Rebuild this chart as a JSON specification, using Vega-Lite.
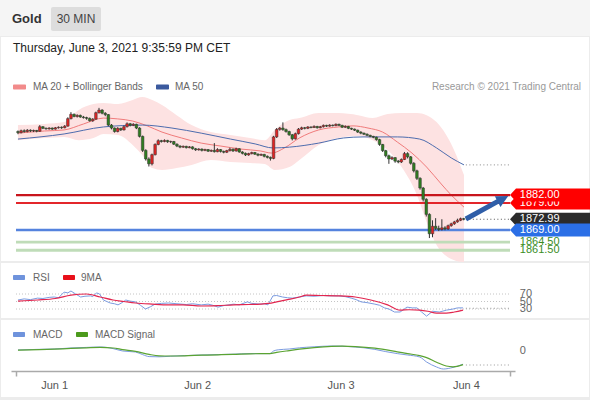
{
"$schema": "https://vega.github.io/schema/vega-lite/v6.json",
"width": 590, "height": 400, "padding": 0, "autosize": {"type": "none"},
"background": "#ececec",
"config": {"font": "Liberation Sans", "view": {"stroke": null}},
"resolve": {"scale": {"y": "independent"}},
"datasets": {
"candles": [
{"i":0,"o":1905.6,"h":1906.0,"l":1904.6,"c":1905.2},
{"i":1,"o":1905.2,"h":1906.3,"l":1904.9,"c":1905.9},
{"i":2,"o":1905.9,"h":1906.4,"l":1905.2,"c":1905.6},
{"i":3,"o":1905.6,"h":1906.5,"l":1905.3,"c":1906.1},
{"i":4,"o":1906.1,"h":1906.4,"l":1905.4,"c":1905.8},
{"i":5,"o":1905.8,"h":1906.3,"l":1905.4,"c":1906.0},
{"i":6,"o":1906.0,"h":1906.2,"l":1905.3,"c":1905.7},
{"i":7,"o":1905.7,"h":1908.0,"l":1905.5,"c":1907.4},
{"i":8,"o":1907.4,"h":1907.6,"l":1906.5,"c":1906.8},
{"i":9,"o":1906.8,"h":1907.1,"l":1906.3,"c":1906.6},
{"i":10,"o":1906.6,"h":1907.2,"l":1906.3,"c":1906.9},
{"i":11,"o":1906.9,"h":1907.1,"l":1906.2,"c":1906.5},
{"i":12,"o":1906.5,"h":1907.3,"l":1906.3,"c":1907.0},
{"i":13,"o":1907.0,"h":1907.5,"l":1906.7,"c":1907.2},
{"i":14,"o":1907.2,"h":1907.5,"l":1906.6,"c":1907.0},
{"i":15,"o":1907.0,"h":1908.0,"l":1906.8,"c":1907.6},
{"i":16,"o":1907.6,"h":1910.9,"l":1907.4,"c":1910.4},
{"i":17,"o":1910.4,"h":1912.8,"l":1910.1,"c":1912.0},
{"i":18,"o":1912.0,"h":1912.3,"l":1910.9,"c":1911.2},
{"i":19,"o":1911.2,"h":1912.0,"l":1910.8,"c":1911.6},
{"i":20,"o":1911.6,"h":1911.9,"l":1910.7,"c":1911.0},
{"i":21,"o":1911.0,"h":1911.4,"l":1910.4,"c":1910.8},
{"i":22,"o":1910.8,"h":1911.1,"l":1910.0,"c":1910.5},
{"i":23,"o":1910.5,"h":1910.8,"l":1909.3,"c":1909.6},
{"i":24,"o":1909.6,"h":1910.6,"l":1909.2,"c":1910.2},
{"i":25,"o":1910.2,"h":1913.0,"l":1910.0,"c":1912.6},
{"i":26,"o":1912.6,"h":1914.4,"l":1912.3,"c":1913.6},
{"i":27,"o":1913.6,"h":1913.9,"l":1912.0,"c":1912.4},
{"i":28,"o":1912.4,"h":1912.8,"l":1911.3,"c":1911.9},
{"i":29,"o":1911.9,"h":1912.1,"l":1907.6,"c":1908.0},
{"i":30,"o":1908.0,"h":1908.4,"l":1906.4,"c":1906.9},
{"i":31,"o":1906.9,"h":1907.1,"l":1905.2,"c":1905.6},
{"i":32,"o":1905.6,"h":1907.2,"l":1905.3,"c":1906.8},
{"i":33,"o":1906.8,"h":1907.0,"l":1905.8,"c":1906.2},
{"i":34,"o":1906.2,"h":1907.8,"l":1906.0,"c":1907.4},
{"i":35,"o":1907.4,"h":1909.0,"l":1907.1,"c":1908.5},
{"i":36,"o":1908.5,"h":1908.8,"l":1907.5,"c":1907.9},
{"i":37,"o":1907.9,"h":1908.7,"l":1907.6,"c":1908.3},
{"i":38,"o":1908.3,"h":1908.5,"l":1906.5,"c":1906.9},
{"i":39,"o":1906.9,"h":1907.2,"l":1903.4,"c":1903.8},
{"i":40,"o":1903.8,"h":1904.1,"l":1898.0,"c":1898.6},
{"i":41,"o":1898.6,"h":1899.0,"l":1894.8,"c":1895.4},
{"i":42,"o":1895.4,"h":1896.0,"l":1892.6,"c":1893.6},
{"i":43,"o":1893.6,"h":1897.4,"l":1893.0,"c":1897.0},
{"i":44,"o":1897.0,"h":1901.2,"l":1896.7,"c":1900.8},
{"i":45,"o":1900.8,"h":1902.7,"l":1900.5,"c":1902.2},
{"i":46,"o":1902.2,"h":1902.5,"l":1901.5,"c":1901.9},
{"i":47,"o":1901.9,"h":1902.7,"l":1901.6,"c":1902.3},
{"i":48,"o":1902.3,"h":1902.5,"l":1901.4,"c":1901.8},
{"i":49,"o":1901.8,"h":1902.2,"l":1901.3,"c":1901.9},
{"i":50,"o":1901.9,"h":1902.1,"l":1900.6,"c":1900.9},
{"i":51,"o":1900.9,"h":1901.2,"l":1899.8,"c":1900.2},
{"i":52,"o":1900.2,"h":1900.5,"l":1899.4,"c":1899.8},
{"i":53,"o":1899.8,"h":1900.4,"l":1899.5,"c":1900.1},
{"i":54,"o":1900.1,"h":1900.3,"l":1899.3,"c":1899.6},
{"i":55,"o":1899.6,"h":1900.2,"l":1899.4,"c":1899.9},
{"i":56,"o":1899.9,"h":1900.1,"l":1898.9,"c":1899.2},
{"i":57,"o":1899.2,"h":1899.5,"l":1898.4,"c":1898.8},
{"i":58,"o":1898.8,"h":1899.4,"l":1898.5,"c":1899.1},
{"i":59,"o":1899.1,"h":1899.3,"l":1898.2,"c":1898.6},
{"i":60,"o":1898.6,"h":1899.2,"l":1898.3,"c":1898.9},
{"i":61,"o":1898.9,"h":1899.1,"l":1898.0,"c":1898.3},
{"i":62,"o":1898.3,"h":1898.9,"l":1898.0,"c":1898.6},
{"i":63,"o":1898.6,"h":1901.3,"l":1897.8,"c":1898.1},
{"i":64,"o":1898.1,"h":1899.4,"l":1897.9,"c":1898.9},
{"i":65,"o":1898.9,"h":1899.1,"l":1897.8,"c":1898.2},
{"i":66,"o":1898.2,"h":1898.5,"l":1897.5,"c":1897.9},
{"i":67,"o":1897.9,"h":1898.8,"l":1897.6,"c":1898.5},
{"i":68,"o":1898.5,"h":1899.6,"l":1898.2,"c":1899.0},
{"i":69,"o":1899.0,"h":1899.3,"l":1898.0,"c":1898.4},
{"i":70,"o":1898.4,"h":1899.6,"l":1898.1,"c":1899.2},
{"i":71,"o":1899.2,"h":1899.4,"l":1897.7,"c":1898.0},
{"i":72,"o":1898.0,"h":1898.3,"l":1897.1,"c":1897.5},
{"i":73,"o":1897.5,"h":1897.8,"l":1896.5,"c":1896.9},
{"i":74,"o":1896.9,"h":1897.7,"l":1896.6,"c":1897.4},
{"i":75,"o":1897.4,"h":1898.1,"l":1897.1,"c":1897.8},
{"i":76,"o":1897.8,"h":1898.0,"l":1896.9,"c":1897.2},
{"i":77,"o":1897.2,"h":1897.5,"l":1896.4,"c":1896.8},
{"i":78,"o":1896.8,"h":1897.4,"l":1896.5,"c":1897.1},
{"i":79,"o":1897.1,"h":1897.3,"l":1896.0,"c":1896.4},
{"i":80,"o":1896.4,"h":1896.7,"l":1895.6,"c":1896.0},
{"i":81,"o":1896.0,"h":1896.3,"l":1894.8,"c":1895.6},
{"i":82,"o":1895.6,"h":1904.0,"l":1895.3,"c":1903.6},
{"i":83,"o":1903.6,"h":1906.9,"l":1903.2,"c":1906.4},
{"i":84,"o":1906.4,"h":1907.3,"l":1905.9,"c":1906.9},
{"i":85,"o":1906.9,"h":1909.0,"l":1905.9,"c":1906.3},
{"i":86,"o":1906.3,"h":1906.7,"l":1905.2,"c":1905.6},
{"i":87,"o":1905.6,"h":1905.9,"l":1904.0,"c":1904.4},
{"i":88,"o":1904.4,"h":1904.7,"l":1902.3,"c":1902.9},
{"i":89,"o":1902.9,"h":1905.2,"l":1902.6,"c":1904.8},
{"i":90,"o":1904.8,"h":1906.9,"l":1904.5,"c":1906.5},
{"i":91,"o":1906.5,"h":1907.4,"l":1906.2,"c":1907.0},
{"i":92,"o":1907.0,"h":1907.3,"l":1906.4,"c":1906.8},
{"i":93,"o":1906.8,"h":1907.6,"l":1906.5,"c":1907.3},
{"i":94,"o":1907.3,"h":1907.5,"l":1906.8,"c":1907.1},
{"i":95,"o":1907.1,"h":1907.9,"l":1906.9,"c":1907.5},
{"i":96,"o":1907.5,"h":1907.7,"l":1906.7,"c":1907.0},
{"i":97,"o":1907.0,"h":1907.7,"l":1906.8,"c":1907.4},
{"i":98,"o":1907.4,"h":1908.2,"l":1907.1,"c":1907.9},
{"i":99,"o":1907.9,"h":1908.1,"l":1907.3,"c":1907.6},
{"i":100,"o":1907.6,"h":1908.3,"l":1907.4,"c":1908.0},
{"i":101,"o":1908.0,"h":1908.2,"l":1907.5,"c":1907.8},
{"i":102,"o":1907.8,"h":1908.6,"l":1907.6,"c":1908.3},
{"i":103,"o":1908.3,"h":1908.5,"l":1907.6,"c":1907.9},
{"i":104,"o":1907.9,"h":1908.1,"l":1906.9,"c":1907.2},
{"i":105,"o":1907.2,"h":1907.9,"l":1906.9,"c":1907.5},
{"i":106,"o":1907.5,"h":1907.7,"l":1906.5,"c":1906.8},
{"i":107,"o":1906.8,"h":1907.0,"l":1906.2,"c":1906.5},
{"i":108,"o":1906.5,"h":1906.7,"l":1905.8,"c":1906.1},
{"i":109,"o":1906.1,"h":1906.3,"l":1905.1,"c":1905.4},
{"i":110,"o":1905.4,"h":1905.7,"l":1904.6,"c":1905.0},
{"i":111,"o":1905.0,"h":1905.2,"l":1904.3,"c":1904.6},
{"i":112,"o":1904.6,"h":1904.9,"l":1903.9,"c":1904.2},
{"i":113,"o":1904.2,"h":1904.4,"l":1903.5,"c":1903.8},
{"i":114,"o":1903.8,"h":1904.0,"l":1903.1,"c":1903.5},
{"i":115,"o":1903.5,"h":1903.7,"l":1902.2,"c":1902.6},
{"i":116,"o":1902.6,"h":1902.9,"l":1900.3,"c":1900.8},
{"i":117,"o":1900.8,"h":1901.0,"l":1898.0,"c":1898.5},
{"i":118,"o":1898.5,"h":1898.8,"l":1896.0,"c":1896.6},
{"i":119,"o":1896.6,"h":1897.0,"l":1893.6,"c":1895.4},
{"i":120,"o":1895.4,"h":1896.4,"l":1895.0,"c":1895.9},
{"i":121,"o":1895.9,"h":1896.1,"l":1894.0,"c":1894.6},
{"i":122,"o":1894.6,"h":1895.0,"l":1893.8,"c":1894.3},
{"i":123,"o":1894.3,"h":1895.6,"l":1893.9,"c":1895.2},
{"i":124,"o":1895.2,"h":1898.0,"l":1895.0,"c":1897.4},
{"i":125,"o":1897.4,"h":1897.9,"l":1895.6,"c":1896.2},
{"i":126,"o":1896.2,"h":1896.5,"l":1893.3,"c":1893.8},
{"i":127,"o":1893.8,"h":1894.2,"l":1890.4,"c":1891.0},
{"i":128,"o":1891.0,"h":1891.4,"l":1887.6,"c":1888.2},
{"i":129,"o":1888.2,"h":1888.6,"l":1884.0,"c":1884.6},
{"i":130,"o":1884.6,"h":1885.0,"l":1879.6,"c":1880.4},
{"i":131,"o":1880.4,"h":1880.8,"l":1874.0,"c":1874.8},
{"i":132,"o":1874.8,"h":1875.2,"l":1866.0,"c":1867.6},
{"i":133,"o":1867.6,"h":1872.6,"l":1866.3,"c":1870.4},
{"i":134,"o":1870.4,"h":1873.4,"l":1869.0,"c":1869.6},
{"i":135,"o":1869.6,"h":1870.6,"l":1868.6,"c":1869.2},
{"i":136,"o":1869.2,"h":1873.0,"l":1868.8,"c":1869.8},
{"i":137,"o":1869.8,"h":1870.4,"l":1868.9,"c":1869.4},
{"i":138,"o":1869.4,"h":1871.0,"l":1869.0,"c":1870.6},
{"i":139,"o":1870.6,"h":1871.7,"l":1870.2,"c":1871.3},
{"i":140,"o":1871.3,"h":1872.4,"l":1870.9,"c":1872.0},
{"i":141,"o":1872.0,"h":1873.2,"l":1871.7,"c":1872.6},
{"i":142,"o":1872.6,"h":1873.6,"l":1872.3,"c":1873.2},
{"i":143,"o":1873.2,"h":1873.5,"l":1872.6,"c":1872.99}
],
"band": [
{"i":0,"up":1908.0,"lo":1902.4},{"i":8.5,"up":1908.4,"lo":1903.2},{"i":14.8,"up":1909.1,"lo":1903.6},
{"i":19.5,"up":1913.6,"lo":1902.4},{"i":24.2,"up":1915.8,"lo":1903.2},{"i":27.4,"up":1916.2,"lo":1904.7},
{"i":32.1,"up":1915.8,"lo":1904.3},{"i":36.8,"up":1917.3,"lo":1900.6},{"i":39.9,"up":1918.4,"lo":1896.9},
{"i":43.1,"up":1917.3,"lo":1892.0},{"i":46.2,"up":1915.5,"lo":1891.3},{"i":50.9,"up":1911.7,"lo":1892.0},
{"i":55.7,"up":1908.0,"lo":1893.2},{"i":61.9,"up":1905.4,"lo":1895.0},{"i":68.2,"up":1904.3,"lo":1894.3},
{"i":74.5,"up":1903.2,"lo":1893.9},{"i":79.2,"up":1902.4,"lo":1893.5},{"i":82.4,"up":1906.2,"lo":1891.3},
{"i":87.1,"up":1909.9,"lo":1892.4},{"i":90.3,"up":1910.6,"lo":1895.0},{"i":96.5,"up":1912.5,"lo":1900.6},
{"i":102.8,"up":1912.5,"lo":1903.2},{"i":109.1,"up":1911.7,"lo":1903.9},{"i":113.8,"up":1910.6,"lo":1902.4},
{"i":118.6,"up":1912.1,"lo":1898.7},{"i":123.3,"up":1912.5,"lo":1892.0},{"i":128,"up":1912.5,"lo":1882.0},
{"i":131.1,"up":1911.7,"lo":1872.0},{"i":134.3,"up":1909.1,"lo":1863.4},{"i":137.4,"up":1904.3,"lo":1859.3},
{"i":140.6,"up":1896.9,"lo":1857.5},{"i":143.1,"up":1889.4,"lo":1857.1}
],
"ma20": [
{"i":0,"v":1905.0},{"i":8.5,"v":1905.8},{"i":14.8,"v":1906.2},{"i":21,"v":1908.4},{"i":27.4,"v":1910.6},
{"i":32,"v":1910.3},{"i":36.8,"v":1909.5},{"i":41.5,"v":1907.7},{"i":46.2,"v":1905.4},{"i":52.5,"v":1903.2},
{"i":58.8,"v":1901.3},{"i":65.1,"v":1900.2},{"i":71.4,"v":1899.1},{"i":77.7,"v":1898.4},{"i":81.4,"v":1897.6},
{"i":85.5,"v":1899.5},{"i":90.3,"v":1903.2},{"i":96.5,"v":1906.2},{"i":102.8,"v":1907.3},{"i":107.5,"v":1907.7},
{"i":112.3,"v":1906.9},{"i":117,"v":1905.4},{"i":121.7,"v":1901.7},{"i":126.4,"v":1897.6},{"i":131.1,"v":1892.4},
{"i":135.8,"v":1886.1},{"i":139,"v":1882.0},{"i":143.1,"v":1877.5}
],
"ma50": [
{"i":0,"v":1902.8},{"i":14.8,"v":1904.7},{"i":27.4,"v":1907.3},{"i":39.9,"v":1908.0},{"i":49.4,"v":1906.9},
{"i":58.8,"v":1905.0},{"i":68.2,"v":1902.8},{"i":76.1,"v":1901.0},{"i":81.8,"v":1899.5},{"i":87.1,"v":1899.8},
{"i":96.5,"v":1901.3},{"i":104.4,"v":1903.2},{"i":110.7,"v":1903.6},{"i":121.7,"v":1903.6},{"i":128.9,"v":1902.8},
{"i":134.3,"v":1899.5},{"i":139,"v":1895.8},{"i":143.1,"v":1893.2}
],
"levels": [
{"price":1879,"label":"1879.00","kind":"R1"},
{"price":1882,"label":"1882.00","kind":"R2"},
{"price":1872.99,"label":"1872.99","kind":"Last"},
{"price":1869,"label":"1869.00","kind":"S1"},
{"price":1864.5,"label":"1864.50","kind":"S2"},
{"price":1861.5,"label":"1861.50","kind":"S3"}
],
"arrow": [{"i":143.7,"p":1873.1},{"i":154.7,"p":1880.1}],
"rsi": [
{"i":0,"v":54},{"i":2,"v":57},{"i":4,"v":55},{"i":6.3,"v":59},{"i":8,"v":58},{"i":10,"v":61},{"i":11.6,"v":62},
{"i":13,"v":60},{"i":14.8,"v":75},{"i":16,"v":73},{"i":17,"v":78},{"i":18.5,"v":70},{"i":20.1,"v":62},{"i":21.5,"v":64},
{"i":23.3,"v":65},{"i":24,"v":63},{"i":25.2,"v":73},{"i":26.2,"v":70},{"i":27.4,"v":54},{"i":28.5,"v":50},{"i":29.6,"v":46},
{"i":31,"v":44},{"i":32.1,"v":41},{"i":33.4,"v":47},{"i":34.6,"v":54},{"i":36,"v":51},{"i":37.7,"v":49},{"i":39.3,"v":40},
{"i":40.9,"v":30},{"i":42.5,"v":36},{"i":44,"v":43},{"i":46,"v":45},{"i":48.4,"v":46},{"i":51,"v":44},{"i":54,"v":42},
{"i":56,"v":44},{"i":58.8,"v":41},{"i":61,"v":43},{"i":62.5,"v":40},{"i":64.2,"v":35},{"i":66,"v":39},{"i":69.2,"v":43},
{"i":71,"v":41},{"i":73.6,"v":49},{"i":75,"v":45},{"i":77.7,"v":43},{"i":79,"v":44},{"i":80.2,"v":41},{"i":81.8,"v":65},
{"i":83,"v":66},{"i":84.9,"v":62},{"i":86.5,"v":60},{"i":88,"v":59},{"i":90.3,"v":62},{"i":92.5,"v":65},{"i":95,"v":64},
{"i":98,"v":66},{"i":100,"v":65},{"i":102.8,"v":65},{"i":105,"v":63},{"i":106.9,"v":59},{"i":108.5,"v":55},{"i":110.1,"v":49},
{"i":112,"v":47},{"i":114.5,"v":43},{"i":116,"v":40},{"i":117.6,"v":33},{"i":119,"v":30},{"i":120.8,"v":22},{"i":122.6,"v":22},
{"i":124.8,"v":35},{"i":126.5,"v":33},{"i":128,"v":33},{"i":129.5,"v":22},{"i":131.1,"v":11},{"i":133,"v":24},{"i":135.2,"v":22},
{"i":137.5,"v":27},{"i":139.6,"v":30},{"i":141,"v":33},{"i":142.8,"v":33}
],
"rsima": [
{"i":0,"v":51},{"i":6.3,"v":54},{"i":12,"v":58},{"i":17,"v":67},{"i":22,"v":70},{"i":26.4,"v":62},{"i":30.5,"v":54},
{"i":34,"v":50},{"i":37.7,"v":46},{"i":43,"v":43},{"i":48.4,"v":41},{"i":53,"v":41},{"i":58.8,"v":38},{"i":64,"v":39},
{"i":69.2,"v":41},{"i":74,"v":42},{"i":77.7,"v":43},{"i":80.5,"v":45},{"i":83,"v":49},{"i":86.5,"v":55},{"i":90.3,"v":62},
{"i":92.5,"v":67},{"i":97,"v":66},{"i":102.8,"v":65},{"i":108.2,"v":62},{"i":113.2,"v":54},{"i":118.6,"v":41},{"i":122.6,"v":27},
{"i":125.5,"v":28},{"i":128.9,"v":27},{"i":131.5,"v":24},{"i":134.3,"v":19},{"i":137.4,"v":19},{"i":140,"v":22},{"i":142.8,"v":27}
],
"macd": [
{"i":0,"v":0.5},{"i":6,"v":0.8},{"i":11.6,"v":1.0},{"i":17,"v":1.5},{"i":22,"v":1.8},{"i":26.4,"v":2.0},{"i":28.5,"v":1.8},
{"i":30.5,"v":1.2},{"i":33.6,"v":0},{"i":37.7,"v":-0.5},{"i":40,"v":-1.8},{"i":42.1,"v":-2.8},{"i":45.3,"v":-2.9},{"i":49,"v":-2.6},
{"i":53.5,"v":-2.3},{"i":59,"v":-2.0},{"i":64.2,"v":-1.8},{"i":69,"v":-1.6},{"i":74.5,"v":-1.3},{"i":78,"v":-1.3},{"i":80.8,"v":-1.3},
{"i":82,"v":0.0},{"i":83.5,"v":0.6},{"i":87,"v":1.0},{"i":90.3,"v":1.6},{"i":95,"v":2.1},{"i":100.6,"v":2.5},{"i":104,"v":2.4},
{"i":108.2,"v":2.0},{"i":111,"v":1.6},{"i":114.5,"v":0.8},{"i":118,"v":-0.3},{"i":121.7,"v":-1.3},{"i":125,"v":-2.0},{"i":128.9,"v":-3.0},
{"i":131.1,"v":-5.5},{"i":134.3,"v":-8.0},{"i":136.5,"v":-9.0},{"i":139.6,"v":-8.2},{"i":142.8,"v":-6.6}
],
"signal": [
{"i":0,"v":0.4},{"i":11.6,"v":0.9},{"i":17,"v":1.3},{"i":22,"v":1.6},{"i":26.4,"v":1.8},{"i":30.5,"v":1.5},{"i":33.6,"v":0.7},
{"i":37.7,"v":-0.2},{"i":42.1,"v":-1.7},{"i":45.3,"v":-2.4},{"i":49,"v":-2.5},{"i":53.5,"v":-2.4},{"i":59,"v":-2.1},{"i":64.2,"v":-1.9},
{"i":69,"v":-1.7},{"i":74.5,"v":-1.4},{"i":80.8,"v":-1.3},{"i":83,"v":-0.7},{"i":87,"v":0.2},{"i":90.3,"v":0.9},{"i":95,"v":1.7},
{"i":100.6,"v":2.3},{"i":104,"v":2.4},{"i":108.2,"v":2.2},{"i":114.5,"v":1.4},{"i":121.7,"v":-0.4},{"i":125,"v":-1.3},{"i":128.9,"v":-2.3},
{"i":131.1,"v":-3.3},{"i":134.3,"v":-5.6},{"i":137.4,"v":-7.5},{"i":139.6,"v":-7.9},{"i":142.8,"v":-6.8}
],
"rsilevels": [{"v":70},{"v":50},{"v":30}]
},
"layer": [
{"data": {"values": [{}]}, "mark": {"type": "rect", "fill": "#f5f5f5"}, "encoding": {"x": {"value": 0}, "x2": {"value": 590}, "y": {"value": 0}, "y2": {"value": 36}}},
{"data": {"values": [{}]}, "mark": {"type": "rect", "fill": "#ffffff"}, "encoding": {"x": {"value": 1}, "x2": {"value": 589}, "y": {"value": 37}, "y2": {"value": 261}}},
{"data": {"values": [{}]}, "mark": {"type": "rect", "fill": "#ffffff"}, "encoding": {"x": {"value": 1}, "x2": {"value": 589}, "y": {"value": 263}, "y2": {"value": 318}}},
{"data": {"values": [{}]}, "mark": {"type": "rect", "fill": "#ffffff"}, "encoding": {"x": {"value": 1}, "x2": {"value": 589}, "y": {"value": 320}, "y2": {"value": 397}}},
{"data": {"values": [{}]}, "mark": {"type": "text", "text": "Gold", "fontSize": 13, "fontWeight": "bold", "color": "#333333", "align": "left", "baseline": "middle"}, "encoding": {"x": {"value": 12}, "y": {"value": 19}}},
{"data": {"values": [{}]}, "mark": {"type": "rect", "fill": "#dddddd", "cornerRadius": 2}, "encoding": {"x": {"value": 51}, "x2": {"value": 101}, "y": {"value": 7}, "y2": {"value": 31}}},
{"data": {"values": [{}]}, "mark": {"type": "text", "text": "30 MIN", "fontSize": 12, "color": "#444444", "align": "center", "baseline": "middle"}, "encoding": {"x": {"value": 76}, "y": {"value": 19}}},
{"data": {"values": [{}]}, "mark": {"type": "text", "text": "Thursday, June 3, 2021 9:35:59 PM CET", "fontSize": 12, "color": "#222222", "align": "left", "baseline": "middle"}, "encoding": {"x": {"value": 13}, "y": {"value": 48}}},
{"data": {"values": [{}]}, "mark": {"type": "text", "text": "Research © 2021 Trading Central", "fontSize": 10, "color": "#999999", "align": "right", "baseline": "middle"}, "encoding": {"x": {"value": 581}, "y": {"value": 87}}},
{"data": {"values": [{}]}, "mark": {"type": "rect", "fill": "#f28b8b", "cornerRadius": 1}, "encoding": {"x": {"value": 13}, "x2": {"value": 26}, "y": {"value": 84.5}, "y2": {"value": 89.5}}},
{"data": {"values": [{}]}, "mark": {"type": "text", "text": "MA 20 + Bollinger Bands", "fontSize": 10, "color": "#666666", "align": "left", "baseline": "middle"}, "encoding": {"x": {"value": 33}, "y": {"value": 87}}},
{"data": {"values": [{}]}, "mark": {"type": "rect", "fill": "#3b5a9e", "cornerRadius": 1}, "encoding": {"x": {"value": 156}, "x2": {"value": 169}, "y": {"value": 84.5}, "y2": {"value": 89.5}}},
{"data": {"values": [{}]}, "mark": {"type": "text", "text": "MA 50", "fontSize": 10, "color": "#666666", "align": "left", "baseline": "middle"}, "encoding": {"x": {"value": 175}, "y": {"value": 87}}},
{"data": {"values": [{}]}, "mark": {"type": "rect", "fill": "#6f93dc", "cornerRadius": 1}, "encoding": {"x": {"value": 13}, "x2": {"value": 25}, "y": {"value": 275}, "y2": {"value": 280}}},
{"data": {"values": [{}]}, "mark": {"type": "text", "text": "RSI", "fontSize": 10, "color": "#666666", "align": "left", "baseline": "middle"}, "encoding": {"x": {"value": 33}, "y": {"value": 277.5}}},
{"data": {"values": [{}]}, "mark": {"type": "rect", "fill": "#e8101a", "cornerRadius": 1}, "encoding": {"x": {"value": 63}, "x2": {"value": 75}, "y": {"value": 275}, "y2": {"value": 280}}},
{"data": {"values": [{}]}, "mark": {"type": "text", "text": "9MA", "fontSize": 10, "color": "#666666", "align": "left", "baseline": "middle"}, "encoding": {"x": {"value": 81}, "y": {"value": 277.5}}},
{"data": {"values": [{}]}, "mark": {"type": "rect", "fill": "#6f93dc", "cornerRadius": 1}, "encoding": {"x": {"value": 13}, "x2": {"value": 25}, "y": {"value": 332}, "y2": {"value": 337}}},
{"data": {"values": [{}]}, "mark": {"type": "text", "text": "MACD", "fontSize": 10, "color": "#666666", "align": "left", "baseline": "middle"}, "encoding": {"x": {"value": 33}, "y": {"value": 334.5}}},
{"data": {"values": [{}]}, "mark": {"type": "rect", "fill": "#4c9a1c", "cornerRadius": 1}, "encoding": {"x": {"value": 76}, "x2": {"value": 88}, "y": {"value": 332}, "y2": {"value": 337}}},
{"data": {"values": [{}]}, "mark": {"type": "text", "text": "MACD Signal", "fontSize": 10, "color": "#666666", "align": "left", "baseline": "middle"}, "encoding": {"x": {"value": 95}, "y": {"value": 334.5}}},

{"data": {"name": "band"}, "mark": {"type": "area", "fill": "#fde2e2", "interpolate": "monotone"},
 "encoding": {"x": {"field": "i", "type": "quantitative", "scale": {"domain": [-0.63, 157.86], "range": [11, 515]}},
  "y": {"field": "up", "type": "quantitative", "scale": {"domain": [1860, 1920], "range": [254.2, 92.8], "zero": false, "nice": false}, "axis": null},
  "y2": {"field": "lo"}}},
{"data": {"name": "ma20"}, "mark": {"type": "line", "stroke": "#f07b7b", "strokeWidth": 1, "interpolate": "monotone"},
 "encoding": {"x": {"field": "i", "type": "quantitative", "scale": {"domain": [-0.63, 157.86], "range": [11, 515]}},
  "y": {"field": "v", "type": "quantitative", "scale": {"domain": [1860, 1920], "range": [254.2, 92.8], "zero": false, "nice": false}, "axis": null}}},
{"data": {"name": "ma50"}, "mark": {"type": "line", "stroke": "#4d6cae", "strokeWidth": 1, "interpolate": "monotone"},
 "encoding": {"x": {"field": "i", "type": "quantitative", "scale": {"domain": [-0.63, 157.86], "range": [11, 515]}},
  "y": {"field": "v", "type": "quantitative", "scale": {"domain": [1860, 1920], "range": [254.2, 92.8], "zero": false, "nice": false}, "axis": null}}},
{"data": {"name": "levels"}, "transform": [{"filter": "datum.kind != 'Last'"}], "mark": {"type": "rule"},
 "encoding": {"x": {"datum": -0.63, "type": "quantitative", "scale": {"domain": [-0.63, 157.86], "range": [11, 515]}},
  "x2": {"datum": 157.86},
  "y": {"field": "price", "type": "quantitative", "scale": {"domain": [1860, 1920], "range": [254.2, 92.8], "zero": false, "nice": false}, "axis": null},
  "stroke": {"field": "kind", "type": "nominal", "scale": {"domain": ["R1", "R2", "S1", "S2", "S3"], "range": ["#e3262b", "#c8141c", "#5583de", "#bfdcb8", "#bfdcb8"]}, "legend": null},
  "strokeWidth": {"field": "kind", "type": "nominal", "scale": {"domain": ["R1", "R2", "S1", "S2", "S3"], "range": [2, 3, 1, 1.8, 1.8]}, "legend": null}}},
{"data": {"values": [{}]}, "mark": {"type": "rule", "stroke": "#888888", "strokeDash": [1, 2.5]},
 "encoding": {"x": {"datum": 143.7, "type": "quantitative", "scale": {"domain": [-0.63, 157.86], "range": [11, 515]}}, "x2": {"datum": 157.86},
  "y": {"datum": 1893.2, "type": "quantitative", "scale": {"domain": [1860, 1920], "range": [254.2, 92.8], "zero": false, "nice": false}, "axis": null}}},
{"data": {"values": [{}]}, "mark": {"type": "rule", "stroke": "#555555", "strokeDash": [1, 2.5]},
 "encoding": {"x": {"datum": 143.7, "type": "quantitative", "scale": {"domain": [-0.63, 157.86], "range": [11, 515]}}, "x2": {"datum": 157.86},
  "y": {"datum": 1872.99, "type": "quantitative", "scale": {"domain": [1860, 1920], "range": [254.2, 92.8], "zero": false, "nice": false}, "axis": null}}},
{"data": {"name": "candles"}, "mark": {"type": "rule", "stroke": "#333333", "strokeWidth": 1},
 "encoding": {"x": {"field": "i", "type": "quantitative", "scale": {"domain": [-0.63, 157.86], "range": [11, 515]},
   "axis": {"title": null, "grid": false, "zindex": 2, "values": [-0.63, 11.6, 57.5, 103.5, 143.7, 157.86],
    "labelExpr": "datum.value > 0 && datum.value < 20 ? 'Jun 1' : datum.value > 50 && datum.value < 60 ? 'Jun 2' : datum.value > 100 && datum.value < 110 ? 'Jun 3' : datum.value > 140 && datum.value < 150 ? 'Jun 4' : ''",
    "labelOverlap": false, "labelFlush": false, "labelBound": false, "offset": -29,
    "domainColor": "#aaaaaa", "domainWidth": 1.5, "tickColor": "#aaaaaa", "tickWidth": 1.5, "tickSize": 5,
    "tickOpacity": {"condition": {"test": "datum.value < 0 || datum.value > 150", "value": 1}, "value": 0},
    "labelColor": "#555555", "labelFontSize": 11, "labelPadding": 3, "labelFont": "Liberation Sans"}},
  "y": {"field": "l", "type": "quantitative", "scale": {"domain": [1860, 1920], "range": [254.2, 92.8], "zero": false, "nice": false}, "axis": null},
  "y2": {"field": "h"}}},
{"data": {"name": "candles"}, "mark": {"type": "bar", "width": 2.6, "stroke": "#333333", "strokeWidth": 0.5},
 "encoding": {"x": {"field": "i", "type": "quantitative", "scale": {"domain": [-0.63, 157.86], "range": [11, 515]}},
  "y": {"field": "o", "type": "quantitative", "scale": {"domain": [1860, 1920], "range": [254.2, 92.8], "zero": false, "nice": false}, "axis": null},
  "y2": {"field": "c"},
  "fill": {"condition": {"test": "datum.c >= datum.o", "value": "#e02424"}, "value": "#2f7d1f"}}},
{"data": {"name": "levels"}, "transform": [{"filter": "datum.kind == 'R1'"}], "mark": {"type": "point", "shape": "M0,0L6,-6.5L80,-6.5L80,6.5L6,6.5Z", "size": 4, "filled": true, "opacity": 1, "strokeWidth": 0},
 "encoding": {"x": {"datum": 157.86, "type": "quantitative", "scale": {"domain": [-0.63, 157.86], "range": [11, 515]}},
  "y": {"field": "price", "type": "quantitative", "scale": {"domain": [1860, 1920], "range": [254.2, 92.8], "zero": false, "nice": false}, "axis": null},
  "fill": {"field": "kind", "type": "nominal", "scale": {"domain": ["R1", "R2", "Last", "S1"], "range": ["#ff0000", "#ff0000", "#2b2b2b", "#2b6fe6"]}, "legend": null}}},
{"data": {"name": "levels"}, "transform": [{"filter": "datum.kind == 'R1'"}], "mark": {"type": "text", "fontSize": 11, "align": "left", "baseline": "middle"},
 "encoding": {"x": {"datum": 161, "type": "quantitative", "scale": {"domain": [-0.63, 157.86], "range": [11, 515]}},
  "y": {"field": "price", "type": "quantitative", "scale": {"domain": [1860, 1920], "range": [254.2, 92.8], "zero": false, "nice": false}, "axis": null},
  "text": {"field": "label"},
  "color": {"field": "kind", "type": "nominal", "scale": {"domain": ["R1", "R2", "Last", "S1", "S2", "S3"], "range": ["#ffffff", "#ffffff", "#ffffff", "#ffffff", "#3a8d1f", "#3a8d1f"]}, "legend": null}}},
{"data": {"name": "levels"}, "transform": [{"filter": "datum.kind == 'R2' || datum.kind == 'Last' || datum.kind == 'S1'"}], "mark": {"type": "point", "shape": "M0,0L6,-6.5L80,-6.5L80,6.5L6,6.5Z", "size": 4, "filled": true, "opacity": 1, "strokeWidth": 0},
 "encoding": {"x": {"datum": 157.86, "type": "quantitative", "scale": {"domain": [-0.63, 157.86], "range": [11, 515]}},
  "y": {"field": "price", "type": "quantitative", "scale": {"domain": [1860, 1920], "range": [254.2, 92.8], "zero": false, "nice": false}, "axis": null},
  "fill": {"field": "kind", "type": "nominal", "scale": {"domain": ["R1", "R2", "Last", "S1"], "range": ["#ff0000", "#ff0000", "#2b2b2b", "#2b6fe6"]}, "legend": null}}},
{"data": {"name": "levels"}, "transform": [{"filter": "datum.kind != 'R1'"}], "mark": {"type": "text", "fontSize": 11, "align": "left", "baseline": "middle"},
 "encoding": {"x": {"datum": 161, "type": "quantitative", "scale": {"domain": [-0.63, 157.86], "range": [11, 515]}},
  "y": {"field": "price", "type": "quantitative", "scale": {"domain": [1860, 1920], "range": [254.2, 92.8], "zero": false, "nice": false}, "axis": null},
  "text": {"field": "label"},
  "color": {"field": "kind", "type": "nominal", "scale": {"domain": ["R1", "R2", "Last", "S1", "S2", "S3"], "range": ["#ffffff", "#ffffff", "#ffffff", "#ffffff", "#3a8d1f", "#3a8d1f"]}, "legend": null}}},
{"data": {"name": "arrow"}, "mark": {"type": "line", "stroke": "#2f5ea8", "strokeWidth": 5, "strokeCap": "butt"},
 "encoding": {"x": {"field": "i", "type": "quantitative", "scale": {"domain": [-0.63, 157.86], "range": [11, 515]}},
  "y": {"field": "p", "type": "quantitative", "scale": {"domain": [1860, 1920], "range": [254.2, 92.8], "zero": false, "nice": false}, "axis": null}}},
{"data": {"values": [{}]}, "mark": {"type": "point", "shape": "M-1,-1L1,0L-1,1Z", "size": 144, "angle": -28, "filled": true, "opacity": 1, "fill": "#2f5ea8", "strokeWidth": 0},
 "encoding": {"x": {"datum": 155.6, "type": "quantitative", "scale": {"domain": [-0.63, 157.86], "range": [11, 515]}},
  "y": {"datum": 1880.6, "type": "quantitative", "scale": {"domain": [1860, 1920], "range": [254.2, 92.8], "zero": false, "nice": false}, "axis": null}}},

{"data": {"name": "rsilevels"}, "mark": {"type": "rule", "stroke": "#c4c4c4", "strokeDash": [1, 2]},
 "encoding": {"x": {"datum": -0.63, "type": "quantitative", "scale": {"domain": [-0.63, 157.86], "range": [11, 515]}}, "x2": {"datum": 157.86},
  "y": {"field": "v", "type": "quantitative", "scale": {"domain": [0, 100], "range": [320.25, 282.75], "zero": false, "nice": false}, "axis": null}}},
{"data": {"values": [{}]}, "mark": {"type": "rule", "stroke": "#999999", "strokeDash": [1, 2.5]},
 "encoding": {"x": {"datum": 143.7, "type": "quantitative", "scale": {"domain": [-0.63, 157.86], "range": [11, 515]}}, "x2": {"datum": 157.86},
  "y": {"datum": 32, "type": "quantitative", "scale": {"domain": [0, 100], "range": [320.25, 282.75], "zero": false, "nice": false}, "axis": null}}},
{"data": {"name": "rsi"}, "mark": {"type": "line", "stroke": "#7b9be0", "strokeWidth": 1},
 "encoding": {"x": {"field": "i", "type": "quantitative", "scale": {"domain": [-0.63, 157.86], "range": [11, 515]}},
  "y": {"field": "v", "type": "quantitative", "scale": {"domain": [0, 100], "range": [320.25, 282.75], "zero": false, "nice": false}, "axis": null}}},
{"data": {"name": "rsima"}, "mark": {"type": "line", "stroke": "#e2264f", "strokeWidth": 1.2, "interpolate": "monotone"},
 "encoding": {"x": {"field": "i", "type": "quantitative", "scale": {"domain": [-0.63, 157.86], "range": [11, 515]}},
  "y": {"field": "v", "type": "quantitative", "scale": {"domain": [0, 100], "range": [320.25, 282.75], "zero": false, "nice": false}, "axis": null}}},
{"data": {"name": "rsilevels"}, "mark": {"type": "text", "fontSize": 11, "color": "#666666", "align": "left", "baseline": "middle"},
 "encoding": {"x": {"datum": 161, "type": "quantitative", "scale": {"domain": [-0.63, 157.86], "range": [11, 515]}},
  "y": {"field": "v", "type": "quantitative", "scale": {"domain": [0, 100], "range": [320.25, 282.75], "zero": false, "nice": false}, "axis": null},
  "text": {"field": "v"}}},

{"data": {"values": [{}]}, "mark": {"type": "rule", "stroke": "#999999", "strokeDash": [1, 2.5]},
 "encoding": {"x": {"datum": 143.7, "type": "quantitative", "scale": {"domain": [-0.63, 157.86], "range": [11, 515]}}, "x2": {"datum": 157.86},
  "y": {"datum": -7, "type": "quantitative", "scale": {"domain": [-10, 10], "range": [371, 331], "zero": false, "nice": false}, "axis": null}}},
{"data": {"name": "macd"}, "mark": {"type": "line", "stroke": "#7b9be0", "strokeWidth": 1, "interpolate": "monotone"},
 "encoding": {"x": {"field": "i", "type": "quantitative", "scale": {"domain": [-0.63, 157.86], "range": [11, 515]}},
  "y": {"field": "v", "type": "quantitative", "scale": {"domain": [-10, 10], "range": [371, 331], "zero": false, "nice": false}, "axis": null}}},
{"data": {"name": "signal"}, "mark": {"type": "line", "stroke": "#5aa332", "strokeWidth": 1.2, "interpolate": "monotone"},
 "encoding": {"x": {"field": "i", "type": "quantitative", "scale": {"domain": [-0.63, 157.86], "range": [11, 515]}},
  "y": {"field": "v", "type": "quantitative", "scale": {"domain": [-10, 10], "range": [371, 331], "zero": false, "nice": false}, "axis": null}}},
{"data": {"values": [{"t": "0"}]}, "mark": {"type": "text", "fontSize": 11, "color": "#666666", "align": "left", "baseline": "middle"},
 "encoding": {"x": {"datum": 161, "type": "quantitative", "scale": {"domain": [-0.63, 157.86], "range": [11, 515]}},
  "y": {"datum": 0, "type": "quantitative", "scale": {"domain": [-10, 10], "range": [371, 331], "zero": false, "nice": false}, "axis": null},
  "text": {"field": "t"}}}
]
}
